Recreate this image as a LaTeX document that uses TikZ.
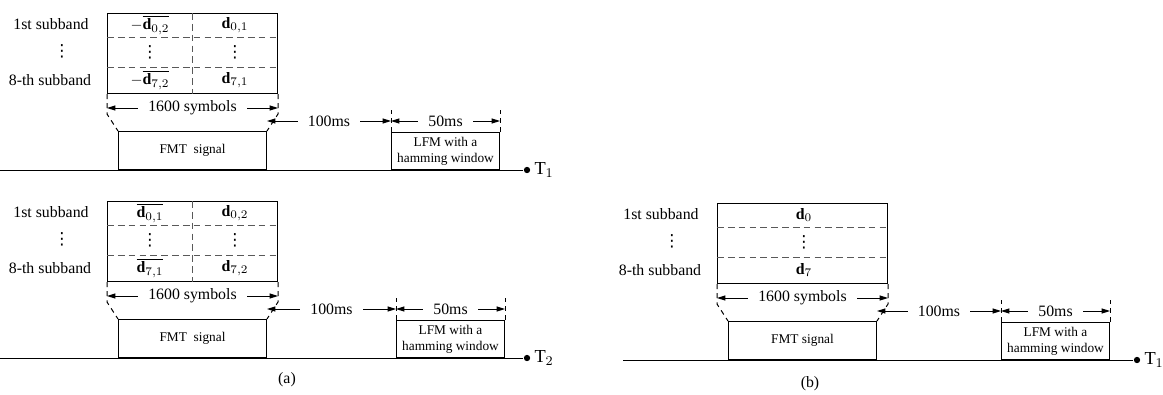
\documentclass[tikz,border=0pt]{standalone}
\usepackage{fontspec}
\setmainfont{Liberation Serif}
\newfontfamily\symfont{DejaVu Sans}
\usetikzlibrary{calc,arrows.meta}

\begin{document}
\begin{tikzpicture}[x=0.6pt, y=-0.6pt, line width=0.6pt, inner sep=0.5pt,
  font=\fontsize{9.5}{11}\selectfont,
  framebox/.style={draw, anchor=north west, minimum width=102pt, minimum height=48pt, inner sep=0pt},
  sigbox/.style={draw, anchor=south west, inner sep=0pt, align=center, font=\fontsize{8}{9.5}\selectfont},
  vdot/.style={inner sep=0pt, font=\symfont\fontsize{10}{11}\selectfont},
  cut/.style={black!65, dash pattern=on 4pt off 2.5pt},
  ext/.style={dash pattern=on 3pt off 2.5pt},
  dim/.style={{Triangle[length=5pt,width=3pt]}-{Triangle[length=5pt,width=3pt]}},
  gaplabel/.style={fill=white, inner xsep=6pt, inner ysep=1pt},
  tdot/.style={circle, fill, inner sep=0pt, minimum size=3.8pt}]

  \useasboundingbox (0,0) rectangle (1163,394);

  % ---------- the three frames: (a) top, (a) bottom, (b) ----------
  \foreach \i/\px/\py/\lx/\bx/\tn/\ft in {1/0/0/0/0/1/{FMT\ \ signal}, 2/0/188/5/0/2/{FMT\ \ signal}, 3/610/190/0/13/1/{FMT signal}}{
  \begin{scope}[shift={(\px,\py)}]
    \node (sb1\i) at (51,24) {1st subband};
    \node[vdot] (sbd\i) at (62,51) {⋮};
    \node (sb8\i) at (50,80) {8-th subband};

    \node[framebox] (grid\i) at (107,13) {};
    \draw[cut] (107,37) -- (277,37);
    \draw[cut] (107,67) -- (277,67);

    \node[sigbox, minimum width=88.8pt, minimum height=22.8pt] (fmt\i) at (118,170) {\ft};
    \node[sigbox, minimum width=64.8pt, minimum height=22.2pt] (lfm\i) at (391+\lx,170) {LFM with a\\hamming window};

    % dimension lines
    \draw[ext] (grid\i.south west) -- ++(0,20) -- (fmt\i.north west);
    \draw[ext] (grid\i.south east) -- ++(0,20) -- (fmt\i.north east);
    \draw[dim] ($(grid\i.south west)+(0,14)$) -- ($(grid\i.south east)+(0,14)$)
      node[midway, gaplabel] {1600 symbols};
    \coordinate (h\i) at ($(fmt\i.north east)+(0,-10)$);
    \draw[ext] (lfm\i.north west) -- ++(0,-22);
    \draw[ext] (lfm\i.north east) -- ++(0,-22);
    \draw[dim] (h\i) -- (h\i -| lfm\i.north west) node[midway, gaplabel] {100ms};
    \draw[dim] (h\i -| lfm\i.north west) -- (h\i -| lfm\i.north east) node[midway, gaplabel] {50ms};

    % time axis
    \coordinate (s\i) at (\bx,170);
    \node[tdot] (t\i) at (527,170) {};
    \draw (s\i) -- (t\i);
    \node[anchor=west, inner sep=2pt, font=\fontsize{11}{13}\selectfont] (tl\i) at (t\i.east) {T$_\tn$};
  \end{scope}}

  % ---------- (a), first frame ----------
  \draw[cut] (grid1.north) -- (grid1.south);
  \node (c11) at (150,25) {$-\overline{\textbf{d}_{0,2}}$};
  \node (c12) at (235,25) {$\textbf{d}_{0,1}$};
  \node[vdot] (c13) at (150,52) {⋮};
  \node[vdot] (c14) at (235,52) {⋮};
  \node (c15) at (150,80) {$-\overline{\textbf{d}_{7,2}}$};
  \node (c16) at (235,80) {$\textbf{d}_{7,1}$};

  % ---------- (a), second frame ----------
  \draw[cut] (grid2.north) -- (grid2.south);
  \node (c21) at (150,213) {$\overline{\textbf{d}_{0,1}}$};
  \node (c22) at (235,213) {$\textbf{d}_{0,2}$};
  \node[vdot] (c23) at (150,240) {⋮};
  \node[vdot] (c24) at (235,240) {⋮};
  \node (c25) at (150,268) {$\overline{\textbf{d}_{7,1}}$};
  \node (c26) at (235,268) {$\textbf{d}_{7,2}$};

  % ---------- (b) ----------
  \node (c31) at (804,215) {$\textbf{d}_{0}$};
  \node[vdot] (c33) at (804,242) {⋮};
  \node (c35) at (804,270) {$\textbf{d}_{7}$};

  \node (capa) at (287,380) {(a)};
  \node (capb) at (810,384) {(b)};

\end{tikzpicture}
\end{document}
